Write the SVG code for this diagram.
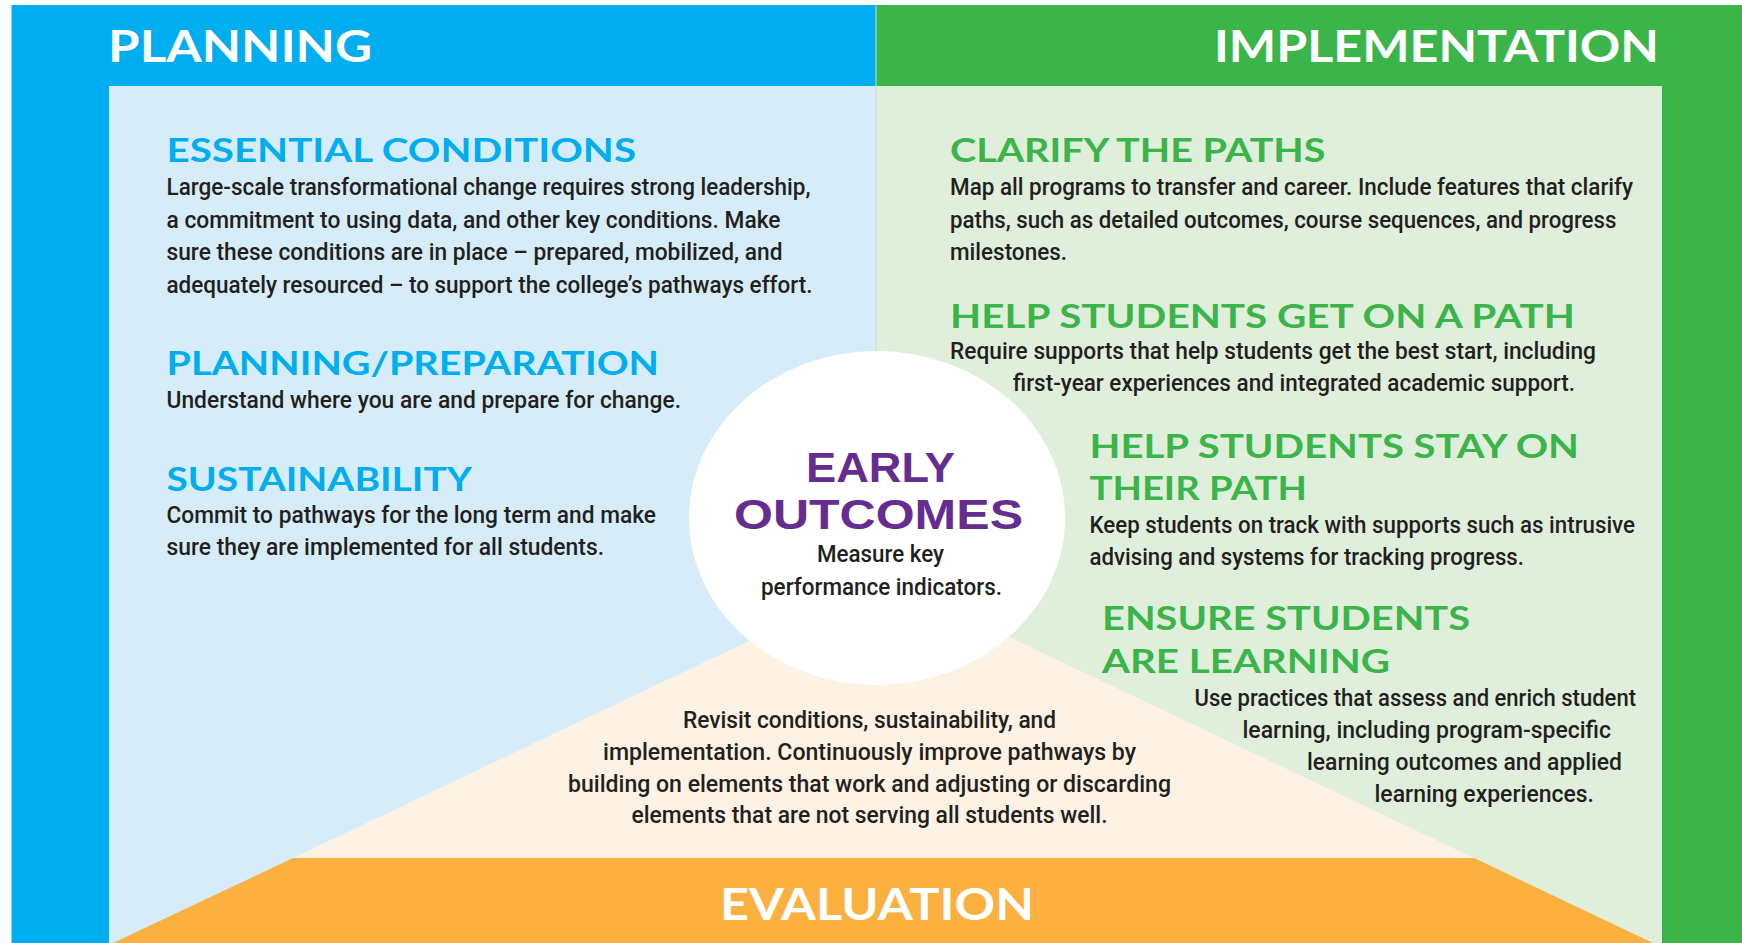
<svg xmlns="http://www.w3.org/2000/svg" width="1742" height="943" viewBox="0 0 1742 943">
<style>
.hdr{font-family:Lato,"Open Sans","Liberation Sans",sans-serif;font-weight:700;font-size:44px;fill:#ffffff}
.tb{font-family:Lato,"Open Sans","Liberation Sans",sans-serif;font-weight:700;font-size:33px;fill:#00aeef}
.tg{font-family:Lato,"Open Sans","Liberation Sans",sans-serif;font-weight:700;font-size:33px;fill:#3bb54a}
.tp{font-family:"Liberation Sans",Arial,sans-serif;font-weight:700;font-size:42px;fill:#662d91}
.body{font-family:Roboto,"Liberation Sans",sans-serif;font-weight:500;font-size:23px;fill:#231f20}
</style>
<g id="background">
<rect x="0" y="0" width="1742" height="943" fill="#ffffff"/>
<rect x="11.5" y="5" width="864.5" height="938" fill="#00aeef"/>
<rect x="876" y="5" width="866" height="938" fill="#3bb54a"/>
<rect x="109" y="86" width="767" height="857" fill="#d6edf9"/>
<rect x="876" y="86" width="786" height="857" fill="#e0efdc"/>
<line x1="876" y1="5" x2="876" y2="943" stroke="#bfe0cc" stroke-width="1"/>
<polygon points="883,577 293,858 1474,858" fill="#fdf2e3"/>
<polygon points="293,858 1474,858 1653,943 113,943" fill="#fbb040"/>
</g>
<g id="connectors"/>
<g id="planning-header">
<text class="hdr" x="108" y="62" textLength="264" lengthAdjust="spacingAndGlyphs">PLANNING</text>
</g>
<g id="implementation-header">
<text class="hdr" x="1214" y="62" textLength="445" lengthAdjust="spacingAndGlyphs">IMPLEMENTATION</text>
</g>
<g id="essential-conditions">
<text class="tb" x="166.5" y="162" textLength="469.5" lengthAdjust="spacingAndGlyphs">ESSENTIAL CONDITIONS</text>
<text class="body" x="166.5" y="195" textLength="644" lengthAdjust="spacingAndGlyphs">Large-scale transformational change requires strong leadership,</text>
<text class="body" x="166.5" y="227.5" textLength="614" lengthAdjust="spacingAndGlyphs">a commitment to using data, and other key conditions. Make</text>
<text class="body" x="166.5" y="260" textLength="616" lengthAdjust="spacingAndGlyphs">sure these conditions are in place – prepared, mobilized, and</text>
<text class="body" x="166.5" y="292.5" textLength="646" lengthAdjust="spacingAndGlyphs">adequately resourced – to support the college’s pathways effort.</text>
</g>
<g id="planning-preparation">
<text class="tb" x="166.5" y="375" textLength="492.5" lengthAdjust="spacingAndGlyphs">PLANNING/PREPARATION</text>
<text class="body" x="166.5" y="408" textLength="514.5" lengthAdjust="spacingAndGlyphs">Understand where you are and prepare for change.</text>
</g>
<g id="sustainability">
<text class="tb" x="166.5" y="491" textLength="305.5" lengthAdjust="spacingAndGlyphs">SUSTAINABILITY</text>
<text class="body" x="166.5" y="523" textLength="489.5" lengthAdjust="spacingAndGlyphs">Commit to pathways for the long term and make</text>
<text class="body" x="166.5" y="555" textLength="437.5" lengthAdjust="spacingAndGlyphs">sure they are implemented for all students.</text>
</g>
<g id="clarify-the-paths">
<text class="tg" x="950" y="162" textLength="375.5" lengthAdjust="spacingAndGlyphs">CLARIFY THE PATHS</text>
<text class="body" x="950" y="195" textLength="683" lengthAdjust="spacingAndGlyphs">Map all programs to transfer and career. Include features that clarify</text>
<text class="body" x="950" y="228" textLength="666.5" lengthAdjust="spacingAndGlyphs">paths, such as detailed outcomes, course sequences, and progress</text>
<text class="body" x="950" y="260" textLength="117" lengthAdjust="spacingAndGlyphs">milestones.</text>
</g>
<g id="get-on-a-path">
<text class="tg" x="950" y="328" textLength="625" lengthAdjust="spacingAndGlyphs">HELP STUDENTS GET ON A PATH</text>
<text class="body" x="950" y="359" textLength="646" lengthAdjust="spacingAndGlyphs">Require supports that help students get the best start, including</text>
<text class="body" x="1013" y="390.5" textLength="562" lengthAdjust="spacingAndGlyphs">first-year experiences and integrated academic support.</text>
</g>
<g id="stay-on-path">
<text class="tg" x="1089.5" y="458" textLength="489.5" lengthAdjust="spacingAndGlyphs">HELP STUDENTS STAY ON</text>
<text class="tg" x="1089.5" y="500" textLength="217.5" lengthAdjust="spacingAndGlyphs">THEIR PATH</text>
<text class="body" x="1089.5" y="533" textLength="545.5" lengthAdjust="spacingAndGlyphs">Keep students on track with supports such as intrusive</text>
<text class="body" x="1089.5" y="565" textLength="434.5" lengthAdjust="spacingAndGlyphs">advising and systems for tracking progress.</text>
</g>
<g id="ensure-learning">
<text class="tg" x="1102" y="630" textLength="368" lengthAdjust="spacingAndGlyphs">ENSURE STUDENTS</text>
<text class="tg" x="1102" y="673" textLength="288" lengthAdjust="spacingAndGlyphs">ARE LEARNING</text>
<text class="body" x="1194.5" y="706" textLength="441.5" lengthAdjust="spacingAndGlyphs">Use practices that assess and enrich student</text>
<text class="body" x="1242.5" y="738" textLength="368.5" lengthAdjust="spacingAndGlyphs">learning, including program-specific</text>
<text class="body" x="1307" y="770" textLength="315" lengthAdjust="spacingAndGlyphs">learning outcomes and applied</text>
<text class="body" x="1374.5" y="802" textLength="219.5" lengthAdjust="spacingAndGlyphs">learning experiences.</text>
</g>
<g id="evaluation">
<text class="body" x="683" y="728" textLength="373" lengthAdjust="spacingAndGlyphs">Revisit conditions, sustainability, and</text>
<text class="body" x="603" y="760" textLength="533" lengthAdjust="spacingAndGlyphs">implementation. Continuously improve pathways by</text>
<text class="body" x="568" y="792" textLength="603" lengthAdjust="spacingAndGlyphs">building on elements that work and adjusting or discarding</text>
<text class="body" x="631.5" y="823" textLength="476" lengthAdjust="spacingAndGlyphs">elements that are not serving all students well.</text>
<text class="hdr" x="720" y="920" textLength="314" lengthAdjust="spacingAndGlyphs">EVALUATION</text>
</g>
<g id="early-outcomes">
<ellipse cx="877" cy="518" rx="188" ry="167" fill="#ffffff"/>
<text class="tp" x="806" y="482" textLength="149" lengthAdjust="spacingAndGlyphs">EARLY</text>
<text class="tp" x="734" y="529" textLength="289" lengthAdjust="spacingAndGlyphs">OUTCOMES</text>
<text class="body" x="817" y="562" textLength="127" lengthAdjust="spacingAndGlyphs">Measure key</text>
<text class="body" x="761" y="595" textLength="241" lengthAdjust="spacingAndGlyphs">performance indicators.</text>
</g>
</svg>
